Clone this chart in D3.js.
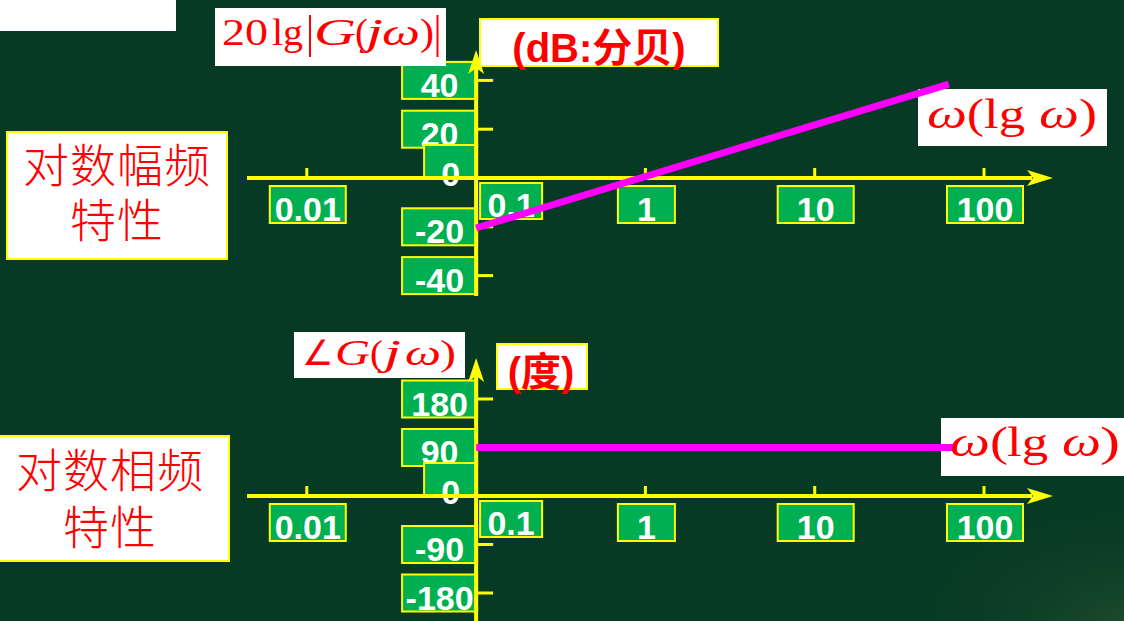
<!DOCTYPE html>
<html>
<head>
<meta charset="utf-8">
<script src="https://cdn.jsdelivr.net/npm/d3@7/dist/d3.min.js"></script>
<style>
  html, body { margin: 0; padding: 0; background: #073a24; overflow: hidden; }
  svg { display: block; }
</style>
</head>
<body>
<svg id="chart" width="1124" height="621"></svg>
<script>
// ---------------- data ----------------
const xTickVals = [0.01, 0.1, 1, 10, 100];
const xTickLabels = ["0.01", "0.1", "1", "10", "100"];
const magTickVals = [40, 20, 0, -20, -40];
const magTickLabels = ["40", "20", "0", "-20", "-40"];
const phaseTickVals = [180, 90, 0, -90, -180];
const phaseTickLabels = ["180", "90", "0", "-90", "-180"];
// magnitude line (dB) vs omega
const magOmega = [0.1, 62];
const magDb = [-20.5, 38.5];
// phase line (deg) vs omega
const phaseOmega = [0.1, 67];
const phaseDeg = [90, 90];

// ---------------- setup ----------------
const W = 1124, H = 621;
const svg = d3.select("#chart");
const YELLOW = "#ffff00", GREEN = "#00b050", RED = "#ff0000", MAGENTA = "#ff00ff";
const LABEL_FONT = "'Liberation Sans', Arial, sans-serif";
const SERIF = "'Liberation Serif', 'Times New Roman', serif";
const CJK = "'Noto Sans CJK SC', sans-serif";

const defs = svg.append("defs");
const rg = defs.append("radialGradient").attr("id", "bgGlow")
  .attr("cx", "100%").attr("cy", "100%").attr("r", "22%");
rg.append("stop").attr("offset", "0%").attr("stop-color", "#24502d").attr("stop-opacity", 0.7);
rg.append("stop").attr("offset", "100%").attr("stop-color", "#073a24").attr("stop-opacity", 0);

svg.append("rect").attr("width", W).attr("height", H).attr("fill", "#073a24");
svg.append("rect").attr("width", W).attr("height", H).attr("fill", "url(#bgGlow)");
svg.append("rect").attr("x", 0).attr("y", 0).attr("width", 176).attr("height", 31).attr("fill", "#ffffff");

const x = d3.scaleLog().domain([0.01, 100]).range([306.8, 984]);
const yMag = d3.scaleLinear().domain([-40, 40]).range([275.6, 80.4]);
const yPh = d3.scaleLinear().domain([-180, 180]).range([593, 399]);

function arrowPath(tx, ty, dir) {
  if (dir === "right") {
    return `M${tx},${ty} L${tx - 26},${ty - 8} L${tx - 20},${ty} L${tx - 26},${ty + 8} Z`;
  }
  return `M${tx},${ty} L${tx - 8},${ty + 24} L${tx},${ty + 18} L${tx + 8},${ty + 24} Z`;
}

// math label: pieces of [text, left, width, italic]
function mathLabel(pieces, baseline, size) {
  const g = svg.append("g");
  pieces.forEach(([t, left, w, it]) => {
    g.append("text").attr("x", left).attr("y", baseline)
      .attr("fill", RED).attr("font-family", SERIF).attr("font-size", size)
      .attr("font-style", it ? "italic" : "normal")
      .attr("textLength", w).attr("lengthAdjust", "spacingAndGlyphs")
      .text(t);
  });
  return g;
}

function cjkTitle(lines, cx, baselines) {
  const t = svg.append("text").attr("text-anchor", "middle").attr("fill", RED)
    .attr("font-family", CJK).attr("font-weight", 300).attr("font-size", 46).attr("letter-spacing", 1);
  lines.forEach((s, i) => t.append("tspan").attr("x", cx).attr("y", baselines[i]).text(s));
}

function drawPanel(opts) {
  const { y, yTickVals, yTickLabels, vTop, vBottom, lineOmega, lineVals } = opts;
  const g = svg.append("g");
  const ax = x(0.1);
  const ay = y(0);

  yTickVals.forEach((v, i) => {
    const lab = yTickLabels[i];
    const w = lab.length === 1 ? 53 : 75;
    let bTop, h, base;
    if (v === 0) { h = 33; bTop = ay - h; base = ay + 8; }
    else { h = 37; bTop = y(v) - h / 2; base = bTop + h - 2; }
    const left = ax + 1 - w;
    g.append("rect").attr("x", left).attr("y", bTop).attr("width", w).attr("height", h)
      .attr("fill", GREEN).attr("stroke", YELLOW).attr("stroke-width", 2);
    g.append("text").attr("x", left + w / 2).attr("y", base)
      .attr("text-anchor", "middle").attr("fill", "#ffffff")
      .attr("font-family", LABEL_FONT).attr("font-weight", "bold").attr("font-size", 34)
      .text(lab);
  });

  xTickVals.forEach((v, i) => {
    const lab = xTickLabels[i];
    let left, bTop, w, h;
    if (v === 0.1) { w = 62; h = 36; left = ax + 4; bTop = ay + 5; }
    else { w = lab.length === 1 ? 57 : 76; h = 37; left = x(v) - w / 2 + 1; bTop = ay + 8; }
    g.append("rect").attr("x", left).attr("y", bTop).attr("width", w).attr("height", h)
      .attr("fill", GREEN).attr("stroke", YELLOW).attr("stroke-width", 2);
    g.append("text").attr("x", left + w / 2).attr("y", bTop + h - 2)
      .attr("text-anchor", "middle").attr("fill", "#ffffff")
      .attr("font-family", LABEL_FONT).attr("font-weight", "bold").attr("font-size", 34)
      .text(lab);
  });

  g.append("line").attr("x1", 247).attr("x2", 1032).attr("y1", ay).attr("y2", ay)
    .attr("stroke", YELLOW).attr("stroke-width", 4);
  g.append("path").attr("d", arrowPath(1053, ay, "right")).attr("fill", YELLOW);
  g.append("line").attr("x1", ax).attr("x2", ax).attr("y1", vTop + 18).attr("y2", vBottom)
    .attr("stroke", YELLOW).attr("stroke-width", 4);
  g.append("path").attr("d", arrowPath(ax, vTop, "up")).attr("fill", YELLOW);

  xTickVals.filter(v => v !== 0.1).forEach(v => {
    g.append("line").attr("x1", x(v)).attr("x2", x(v)).attr("y1", ay - 10).attr("y2", ay)
      .attr("stroke", YELLOW).attr("stroke-width", 3);
  });
  yTickVals.filter(v => v !== 0).forEach(v => {
    g.append("line").attr("x1", ax).attr("x2", ax + 17).attr("y1", y(v)).attr("y2", y(v))
      .attr("stroke", YELLOW).attr("stroke-width", 3);
  });

  return { line: () => {
    const pts = lineOmega.map((w, i) => [x(w), y(lineVals[i])]);
    svg.append("path").attr("d", d3.line()(pts)).attr("fill", "none")
      .attr("stroke", MAGENTA).attr("stroke-width", 7);
  }};
}

// ================= TOP PANEL (magnitude) =================
const magPanel = drawPanel({
  y: yMag, yTickVals: magTickVals, yTickLabels: magTickLabels,
  vTop: 50, vBottom: 296, lineOmega: magOmega, lineVals: magDb
});

svg.append("rect").attr("x", 215).attr("y", 8).attr("width", 231).attr("height", 58).attr("fill", "#fff");
mathLabel([
  ["20", 222, 46, false], ["lg", 272, 31, false], ["G", 314, 42, true],
  ["(", 355, 13, false], ["j", 366, 17, true], ["ω", 382, 38, true], [")", 420, 14, false]
], 45, 38);
svg.append("line").attr("x1", 310).attr("x2", 310).attr("y1", 15).attr("y2", 57).attr("stroke", RED).attr("stroke-width", 2);
svg.append("line").attr("x1", 437.5).attr("x2", 437.5).attr("y1", 15).attr("y2", 57).attr("stroke", RED).attr("stroke-width", 2);

svg.append("rect").attr("x", 480).attr("y", 19).attr("width", 238).attr("height", 47)
  .attr("fill", "#fff").attr("stroke", YELLOW).attr("stroke-width", 2);
svg.append("text").attr("x", 599).attr("y", 62).attr("text-anchor", "middle").attr("fill", RED)
  .attr("font-family", LABEL_FONT + ", " + CJK).attr("font-weight", "bold").attr("font-size", 40)
  .text("(dB:分贝)");

svg.append("rect").attr("x", 918).attr("y", 89).attr("width", 189).attr("height", 57).attr("fill", "#fff");
magPanel.line();
mathLabel([
  ["ω", 927, 40, true], ["(", 967, 17, false], ["lg", 984, 41, false],
  ["ω", 1039, 40, true], [")", 1079, 18, false]
], 128, 42);

svg.append("rect").attr("x", 7).attr("y", 132).attr("width", 220).attr("height", 127)
  .attr("fill", "#fff").attr("stroke", YELLOW).attr("stroke-width", 2);
cjkTitle(["对数幅频", "特性"], 117, [182, 237]);

// ================= BOTTOM PANEL (phase) =================
const phasePanel = drawPanel({
  y: yPh, yTickVals: phaseTickVals, yTickLabels: phaseTickLabels,
  vTop: 358, vBottom: 621, lineOmega: phaseOmega, lineVals: phaseDeg
});

svg.append("rect").attr("x", 294).attr("y", 332).attr("width", 171).attr("height", 46).attr("fill", "#fff");
mathLabel([
  ["∠", 302, 31, false], ["G", 335, 35, true], ["(", 370, 13, false],
  ["j", 384, 17, true], ["ω", 405, 36, true], [")", 440, 16, false]
], 365, 35);

svg.append("rect").attr("x", 497).attr("y", 344).attr("width", 90).attr("height", 45)
  .attr("fill", "#fff").attr("stroke", YELLOW).attr("stroke-width", 2);
svg.append("text").attr("x", 541).attr("y", 386).attr("text-anchor", "middle").attr("fill", RED)
  .attr("font-family", LABEL_FONT + ", " + CJK).attr("font-weight", "bold").attr("font-size", 40)
  .text("(度)");

svg.append("rect").attr("x", 941).attr("y", 418).attr("width", 183).attr("height", 58).attr("fill", "#fff");
phasePanel.line();
mathLabel([
  ["ω", 950, 40, true], ["(", 990, 18, false], ["lg", 1007, 41, false],
  ["ω", 1062, 39, true], [")", 1100, 20, false]
], 456, 43);

svg.append("rect").attr("x", -2).attr("y", 436).attr("width", 231).attr("height", 125)
  .attr("fill", "#fff").attr("stroke", YELLOW).attr("stroke-width", 2);
cjkTitle(["对数相频", "特性"], 110, [487, 544]);
</script>
</body>
</html>
